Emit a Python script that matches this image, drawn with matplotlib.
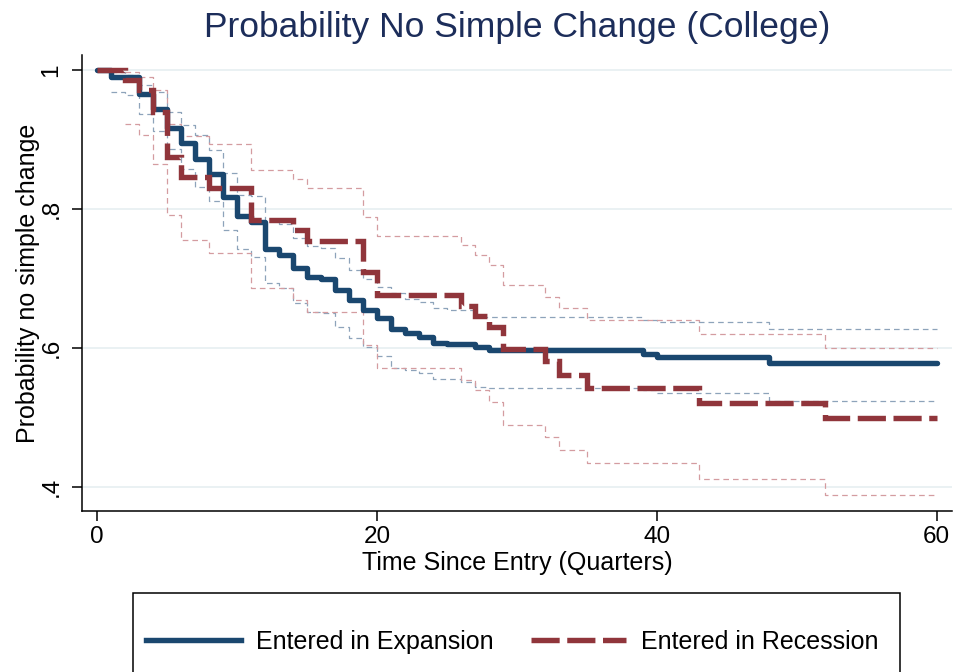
import matplotlib
matplotlib.use("Agg")
import matplotlib.pyplot as plt
from matplotlib.lines import Line2D
from matplotlib.patches import Rectangle

# ---- data ----
t_exp = [0, 1, 3, 4, 5, 6, 7, 8, 9, 10, 11, 12, 13, 14, 15, 16, 17, 18, 19, 20,
         21, 22, 23, 24, 25, 27, 28, 39, 40, 48, 60]
s_exp = [1.0, 0.9895, 0.966, 0.9435, 0.916, 0.8945, 0.8715, 0.850, 0.818, 0.790,
         0.781, 0.743, 0.734, 0.715, 0.703, 0.699, 0.6835, 0.669, 0.655, 0.643,
         0.628, 0.622, 0.616, 0.6076, 0.6053, 0.602, 0.597, 0.592, 0.5875, 0.578, 0.578]

t_exp_ci = [1, 2, 3, 4, 5, 6, 7, 8, 9, 10, 11, 12, 13, 14, 15, 16, 17, 18, 19, 20,
            21, 22, 23, 24, 25, 26, 27, 28, 39, 40, 48, 60]
lo_exp = [0.969, 0.9645, 0.937, 0.913, 0.887, 0.858, 0.832, 0.811, 0.770, 0.743,
          0.731, 0.693, 0.686, 0.665, 0.652, 0.650, 0.631, 0.614, 0.602, 0.589,
          0.571, 0.568, 0.5636, 0.555, 0.555, 0.5515, 0.5443, 0.542, 0.539, 0.535,
          0.524, 0.524]
hi_exp = [0.997, 0.993, 0.978, 0.968, 0.940, 0.921, 0.906, 0.885, 0.852, 0.820,
          0.819, 0.783, 0.778, 0.758, 0.747, 0.744, 0.729, 0.712, 0.699, 0.688,
          0.679, 0.671, 0.667, 0.657, 0.655, 0.655, 0.645, 0.645, 0.641, 0.637,
          0.627, 0.627]

t_rec = [0, 2, 3, 4, 5, 6, 8, 11, 14, 15, 19, 20, 26, 27, 28, 29, 32, 33, 35, 43, 52, 60]
s_rec = [1.0, 0.9856, 0.971, 0.940, 0.875, 0.8465, 0.831, 0.784, 0.770, 0.754,
         0.710, 0.676, 0.660, 0.646, 0.630, 0.598, 0.581, 0.562, 0.543, 0.5213,
         0.4997, 0.4997]

t_rec_ci = [2, 3, 4, 5, 6, 8, 11, 14, 15, 19, 20, 26, 27, 28, 29, 32, 33, 35, 43, 52, 60]
lo_rec = [0.923, 0.906, 0.865, 0.791, 0.755, 0.737, 0.686, 0.669, 0.652, 0.604,
          0.571, 0.554, 0.540, 0.523, 0.489, 0.472, 0.453, 0.434, 0.411, 0.3885, 0.3885]
hi_rec = [0.997, 0.990, 0.971, 0.922, 0.905, 0.893, 0.856, 0.843, 0.830, 0.789,
          0.761, 0.748, 0.734, 0.719, 0.691, 0.674, 0.657, 0.641, 0.621, 0.6005, 0.6005]

x_ticks = [0, 20, 40, 60]
y_ticks = [0.4, 0.6, 0.8, 1.0]
y_ticklabels = [".4", ".6", ".8", "1"]
labels = ["Entered in Expansion", "Entered in Recession"]

# ---- style ----
plt.rcParams['font.family'] = ['Liberation Sans', 'DejaVu Sans']
BLUE = '#1a476f'
RED = '#90353b'
BLUE_CI = '#8da3ba'
RED_CI = '#d49ca0'
GRID = '#e8f0f2'
LW = 3.9
RED_DASH = (0, (5.2, 1.4))

fig = plt.figure(figsize=(9.56, 6.72), dpi=100)
ax = fig.add_axes([0.0855, 0.240, 0.9103, 0.678])
ax.set_xlim(-1.11, 61.1)
ax.set_ylim(0.366, 1.0216)

for y in y_ticks:
    ax.axhline(y, color=GRID, lw=1.3, zorder=0)

ci_ls = (0, (4.5, 3.2))
ax.step(t_exp_ci, lo_exp, where='post', color=BLUE_CI, lw=0.9, ls=ci_ls, zorder=1)
ax.step(t_exp_ci, hi_exp, where='post', color=BLUE_CI, lw=0.9, ls=ci_ls, zorder=1)
ax.step(t_rec_ci, lo_rec, where='post', color=RED_CI, lw=0.9, ls=ci_ls, zorder=1)
ax.step(t_rec_ci, hi_rec, where='post', color=RED_CI, lw=0.9, ls=ci_ls, zorder=1)

ax.step(t_exp, s_exp, where='post', color=BLUE, lw=LW, zorder=3,
        solid_capstyle='round', solid_joinstyle='round')
ax.step(t_rec, s_rec, where='post', color=RED, lw=LW, ls=RED_DASH, zorder=4,
        dash_capstyle='butt', dash_joinstyle='miter')

for s in ['top', 'right']:
    ax.spines[s].set_visible(False)
for s in ['left', 'bottom']:
    ax.spines[s].set_linewidth(1.1)
    ax.spines[s].set_color('black')

ax.set_xticks(x_ticks)
ax.set_xticklabels([str(v) for v in x_ticks])
ax.set_yticks(y_ticks)
ax.set_yticklabels(y_ticklabels, rotation=90, va='center')
ax.tick_params(axis='both', length=7, width=1.1, labelsize=17.5, direction='out')
ax.tick_params(axis='x', pad=4)
ax.tick_params(axis='y', pad=7)

ax.set_xlabel("Time Since Entry (Quarters)", fontsize=18, labelpad=2)
ax.set_ylabel("Probability no simple change", fontsize=18, labelpad=0)

fig.text(517 / 956, 1 - 28 / 672, "Probability No Simple Change (College)",
         ha='center', va='center', fontsize=25.5, color='#1c2d5a')

handles = [Line2D([], [], color=BLUE, lw=LW),
           Line2D([], [], color=RED, lw=LW, ls=RED_DASH)]
fig.legend(handles, labels, ncol=2, loc='center',
           bbox_to_anchor=(512 / 956, 1 - 642 / 672), frameon=False,
           fontsize=18, handlelength=3.8, handletextpad=0.6, columnspacing=1.5)
fig.patches.append(Rectangle((133.3 / 956, -0.05), (900 - 133.3) / 956,
                             (672 * 0.05 + 672 - 593) / 672,
                             transform=fig.transFigure, fill=False,
                             edgecolor='black', lw=1.1))

fig.savefig("out.png", dpi=100, facecolor='white')
